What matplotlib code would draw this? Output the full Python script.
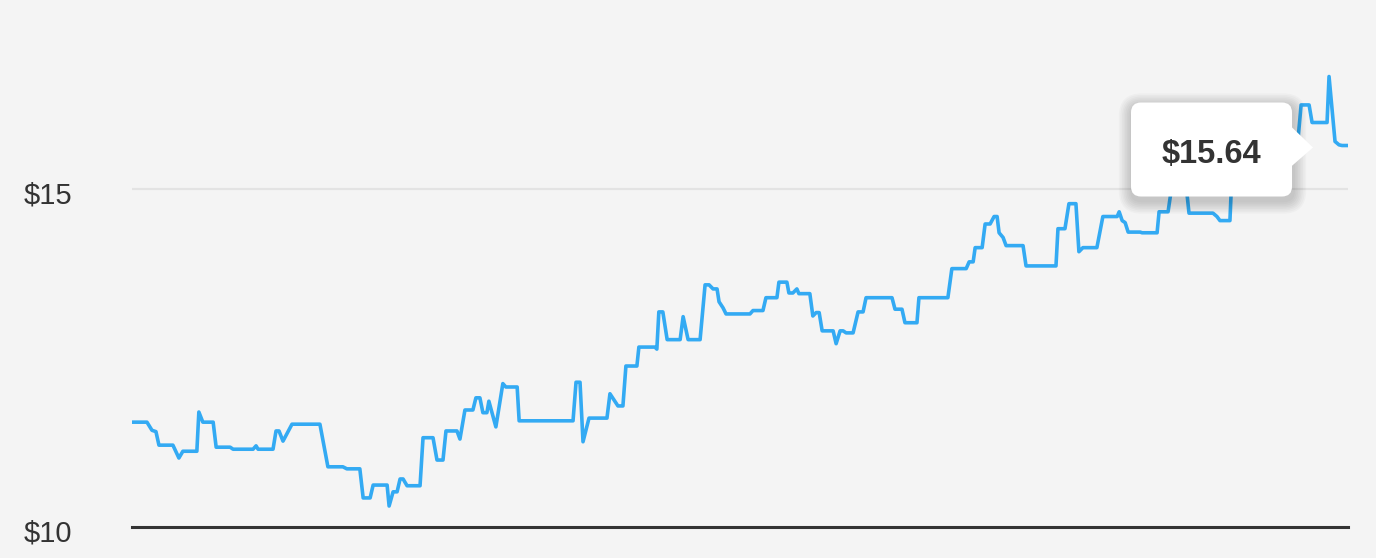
import matplotlib
matplotlib.use('Agg')
import matplotlib.pyplot as plt
from matplotlib.patches import FancyBboxPatch, Polygon
from matplotlib.transforms import IdentityTransform

plt.rcParams['font.family'] = ['Liberation Sans', 'DejaVu Sans']

# day offsets (over one year) and closing price in dollars
days = [0.0, 4.2, 5.7, 6.9, 7.8, 12.0, 13.8, 15.0, 19.2, 19.8,
        21.0, 24.1, 25.0, 29.2, 30.1, 36.1, 37.0, 37.6, 42.1, 43.0,
        43.9, 45.1, 47.8, 56.2, 58.6, 63.1, 64.3, 68.2, 69.2, 71.3,
        72.2, 76.4, 77.0, 78.2, 79.4, 80.3, 81.2, 82.4, 86.3, 87.2,
        90.2, 91.4, 93.2, 94.1, 97.4, 98.3, 99.8, 102.2, 103.1, 104.3,
        105.2, 106.4, 107.0, 109.1, 111.2, 112.1, 115.5, 116.1, 132.3, 133.2,
        134.4, 135.3, 137.1, 142.5, 143.4, 145.8, 147.3, 148.2, 151.5, 152.1,
        156.9, 157.5, 158.1, 159.3, 160.6, 164.5, 165.4, 166.9, 170.5, 172.0,
        173.2, 174.4, 175.6, 176.2, 177.4, 178.3, 185.5, 186.4, 189.4, 190.3,
        193.6, 194.2, 196.6, 197.2, 198.4, 199.6, 200.2, 203.5, 204.4, 205.4,
        206.3, 207.2, 210.5, 211.4, 212.6, 213.5, 214.4, 216.5, 218.0, 219.5,
        220.4, 228.2, 229.1, 231.2, 232.1, 235.7, 236.3, 245.0, 246.2, 250.5,
        251.4, 252.6, 253.2, 255.3, 256.2, 257.7, 258.9, 259.8, 260.4, 261.6,
        262.5, 267.6, 268.5, 277.5, 278.1, 280.2, 281.4, 283.5, 284.4, 285.6,
        289.8, 291.6, 295.9, 296.5, 297.4, 298.3, 299.2, 302.8, 303.4, 307.9,
        308.5, 311.2, 312.4, 316.6, 317.5, 324.7, 325.9, 326.8, 329.8, 330.4,
        338.2, 339.1, 350.0, 351.2, 353.6, 354.5, 359.0, 359.6, 361.4, 362.6,
        363.5, 365.0]
prices = [11.55, 11.55, 11.43, 11.41, 11.21, 11.21, 11.02, 11.12, 11.12, 11.70,
          11.55, 11.55, 11.18, 11.18, 11.15, 11.15, 11.20, 11.15, 11.15, 11.42,
          11.42, 11.27, 11.52, 11.52, 10.89, 10.89, 10.86, 10.86, 10.43, 10.43,
          10.62, 10.62, 10.31, 10.52, 10.52, 10.71, 10.71, 10.61, 10.61, 11.32,
          11.32, 10.99, 10.99, 11.42, 11.42, 11.30, 11.73, 11.73, 11.91, 11.91,
          11.69, 11.69, 11.86, 11.48, 12.12, 12.07, 12.07, 11.57, 11.57, 12.14,
          12.14, 11.26, 11.61, 11.61, 11.97, 11.79, 11.79, 12.38, 12.38, 12.66,
          12.66, 12.63, 13.18, 13.18, 12.77, 12.77, 13.11, 12.77, 12.77, 13.58,
          13.58, 13.52, 13.52, 13.33, 13.24, 13.15, 13.15, 13.20, 13.20, 13.39,
          13.39, 13.62, 13.62, 13.46, 13.46, 13.52, 13.45, 13.45, 13.12, 13.17,
          13.17, 12.90, 12.90, 12.71, 12.90, 12.90, 12.87, 12.87, 13.18, 13.18,
          13.39, 13.39, 13.22, 13.22, 13.02, 13.02, 13.39, 13.39, 13.82, 13.82,
          13.92, 13.92, 14.13, 14.13, 14.48, 14.48, 14.59, 14.59, 14.35, 14.28,
          14.16, 14.16, 13.86, 13.86, 14.41, 14.41, 14.78, 14.78, 14.07, 14.13,
          14.13, 14.59, 14.59, 14.66, 14.53, 14.50, 14.36, 14.36, 14.35, 14.35,
          14.66, 14.66, 15.06, 15.06, 14.64, 14.64, 14.59, 14.53, 14.53, 15.21,
          15.21, 15.58, 15.58, 16.24, 16.24, 15.98, 15.98, 16.66, 15.70, 15.65,
          15.64, 15.64]
ytick_vals = [10, 15]
ytick_labels = ['$10', '$15']
last_label = '$15.64'

BG = '#f4f4f4'
LINE = '#33aaf3'
DARK = '#333333'

fig = plt.figure(figsize=(13.76, 5.58), dpi=100, facecolor=BG)
ax = fig.add_axes([132 / 1376, 31 / 558, 1216 / 1376, 487 / 558])
ax.set_facecolor(BG)

ax.plot(days, prices, color=LINE, lw=2.6, solid_joinstyle='round', zorder=3)

ax.set_xlim(days[0] - 0.3, days[-1] + 0.3)
ax.set_ylim(10, 17.2)

# horizontal rules
ax.axhline(15, color='#e3e3e3', lw=1.6, zorder=1)
ax.axhline(10, color=DARK, lw=2.2, zorder=4, clip_on=False)

for s in ax.spines.values():
    s.set_visible(False)
ax.set_xticks([])
ax.set_yticks([])

for v, lab in zip(ytick_vals, ytick_labels):
    ax.text(-0.0888, v - 0.1, lab, transform=ax.get_yaxis_transform(),
            ha='left', va='center', fontsize=21, color=DARK)

# tooltip on the last point
fig.canvas.draw()
px, py = ax.transData.transform((days[-1], prices[-1]))
left, right = px - 216, px - 55
bot, top = py - 51, py + 43
ident = IdentityTransform()

# soft shadow
for i in range(8):
    g = 2 + i * 1.6
    sh = FancyBboxPatch((left - g + 1, bot - g - 4), right - left + 2 * g, top - bot + 2 * g,
                        boxstyle='round,pad=0,rounding_size=%d' % (10 + g),
                        transform=ident, fc='black', ec='none', alpha=0.022, zorder=5)
    fig.add_artist(sh)
box = FancyBboxPatch((left, bot), right - left, top - bot,
                     boxstyle='round,pad=0,rounding_size=10',
                     transform=ident, fc='white', ec='none', zorder=6)
fig.add_artist(box)
arrow = Polygon([(right - 2, py + 20), (px - 34, py - 2), (right - 2, py - 22)],
                closed=True, transform=ident, fc='white', ec='none', zorder=6)
fig.add_artist(arrow)
fig.text((left + right) / 2 / 1376, (py - 9) / 558, last_label, ha='center', va='center',
         fontsize=23.5, fontweight='bold', color=DARK, zorder=7)

fig.savefig('out.png', dpi=100, facecolor=BG)
